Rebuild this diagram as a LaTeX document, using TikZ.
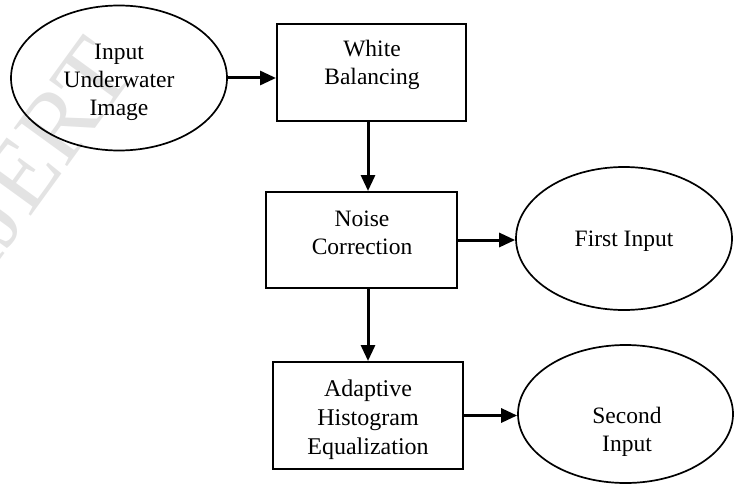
\documentclass[tikz,border=0pt]{standalone}
\usepackage{fontspec}
\setmainfont{Liberation Serif}
\usetikzlibrary{shapes.geometric,arrows.meta}
\begin{document}
\begin{tikzpicture}[x=1pt,y=-1pt,
  blk/.style={draw,line width=2pt,inner sep=0pt},
  oval/.style={draw,ellipse,line width=1.7pt,inner sep=0pt},
  lbl/.style={align=center,font=\fontsize{23.5}{28}\selectfont,inner sep=0pt},
  arr/.style={line width=3pt,-{Triangle[length=16pt,width=14pt]}}]
\useasboundingbox (0,0) rectangle (741,484);

% faint watermark behind the chart
\node[rotate=54,text=gray!22,inner sep=0pt,font=\fontsize{100}{100}\selectfont] (wm) at (36,155) {IJERT};

% shapes
\node[oval,minimum width=216pt,minimum height=145pt] (in) at (119,78) {};
\node[blk,minimum width=189pt,minimum height=97pt] (wb) at (371.5,72.5) {};
\node[blk,minimum width=191pt,minimum height=96pt] (nc) at (361.5,240) {};
\node[oval,minimum width=216pt,minimum height=143pt] (fi) at (624,238.5) {};
\node[blk,minimum width=190pt,minimum height=107pt] (ahe) at (368,415.5) {};
\node[oval,minimum width=215pt,minimum height=138pt] (si) at (625.5,414) {};

% labels
\node[lbl] (tin) at (119,82) {Input\\Underwater\\Image};
\node[lbl] (twb) at (372,65) {White\\Balancing};
\node[lbl] (tnc) at (362,233) {Noise\\Correction};
\node[lbl] (tfi) at (624,241) {First Input};
\node[lbl,font=\fontsize{24}{29}\selectfont] (tahe) at (368,420) {Adaptive\\Histogram\\Equalization};
\node[lbl] (tsi) at (627,432) {Second\\Input};

% connectors
\draw[arr] (in.east) -- (in.east -| wb.west);
\draw[arr] (wb.south -| ahe.north) -- (nc.north -| ahe.north);
\draw[arr] (nc.east) -- (nc.east -| fi.west);
\draw[arr] (nc.south -| ahe.north) -- (ahe.north);
\draw[arr] (ahe.east) -- (ahe.east -| si.west);
\end{tikzpicture}
\end{document}
